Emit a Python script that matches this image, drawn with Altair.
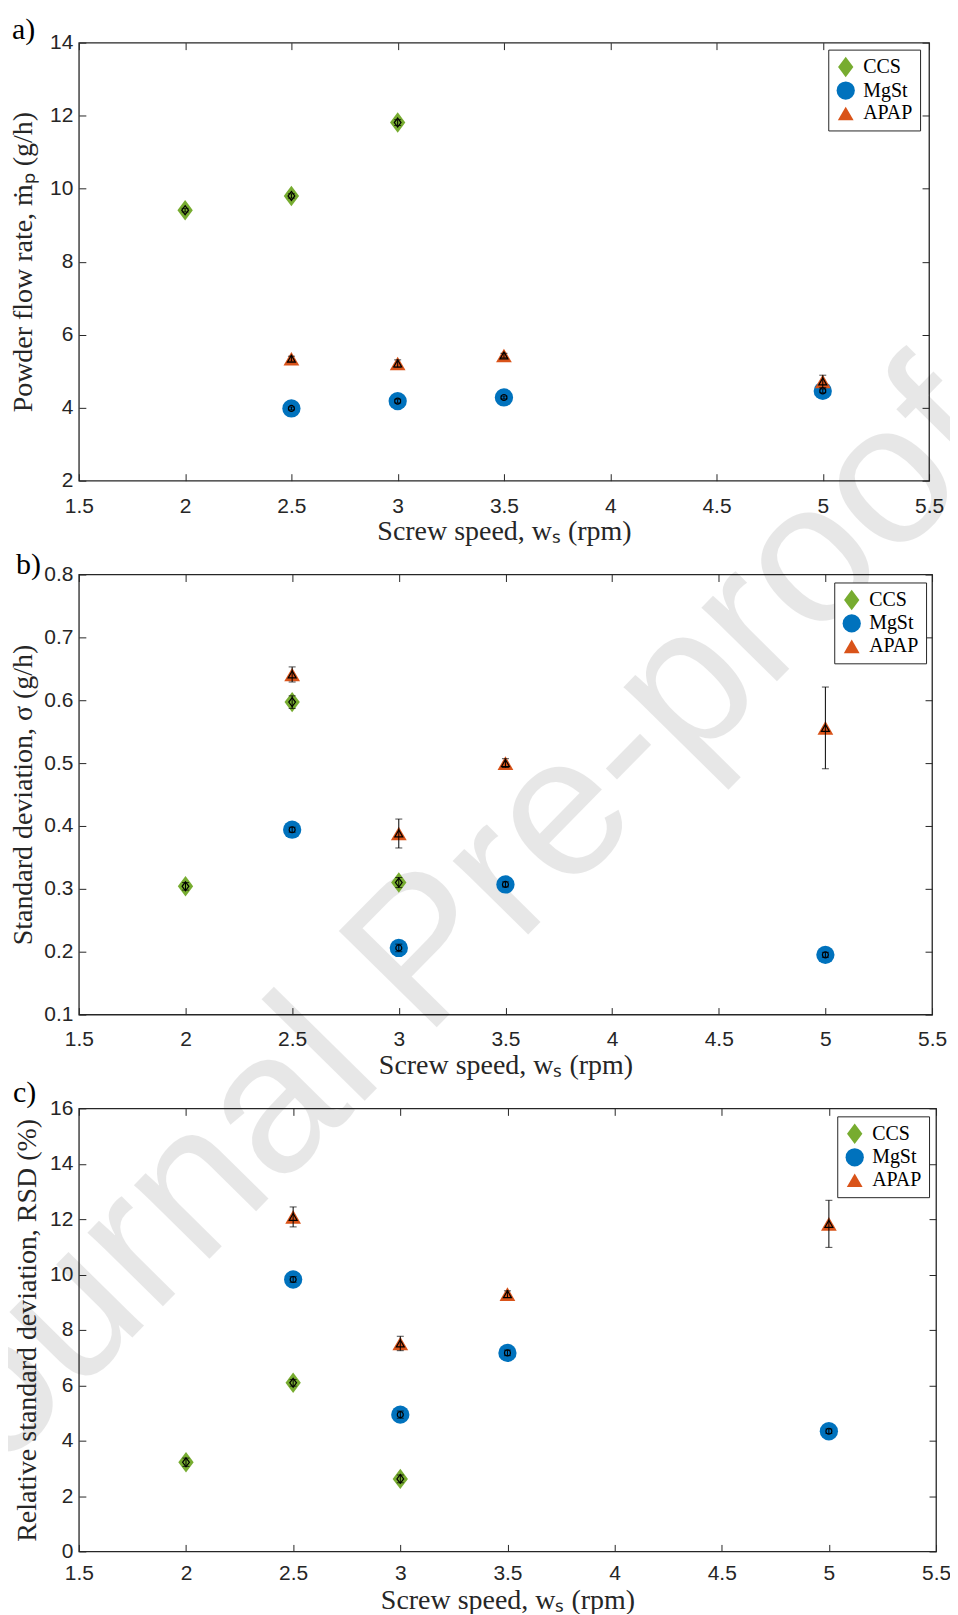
import altair as alt
import pandas as pd

# screw speeds (rpm)
speed_ccs = [2.0, 2.5, 3.0]
speed_rest = [2.5, 3.0, 3.5, 5.0]

# a) powder flow rate (g/h)
flow_ccs = [9.41, 9.80, 11.81]
flow_ccs_err = [0.05, 0.06, 0.08]
flow_mgst = [3.98, 4.18, 4.28, 4.46]
flow_mgst_err = [0.04, 0.05, 0.04, 0.05]
flow_apap = [5.34, 5.21, 5.43, 4.72]
flow_apap_err = [0.07, 0.10, 0.06, 0.17]

# b) standard deviation (g/h)
sd_ccs = [0.304, 0.597, 0.310]
sd_ccs_err = [0.006, 0.010, 0.008]
sd_mgst = [0.394, 0.206, 0.307, 0.195]
sd_mgst_err = [0.004, 0.006, 0.004, 0.004]
sd_apap = [0.641, 0.388, 0.500, 0.556]
sd_apap_err = [0.012, 0.023, 0.007, 0.065]

# c) relative standard deviation (%)
rsd_ccs = [3.22, 6.09, 2.62]
rsd_ccs_err = [0.15, 0.12, 0.14]
rsd_mgst = [9.82, 4.94, 7.17, 4.34]
rsd_mgst_err = [0.10, 0.13, 0.10, 0.08]
rsd_apap = [12.08, 7.51, 9.29, 11.83]
rsd_apap_err = [0.36, 0.26, 0.12, 0.85]

x_ticks = [1.5, 2, 2.5, 3, 3.5, 4, 4.5, 5, 5.5]

SERIES = ["CCS", "MgSt", "APAP"]
COLORS = ["#77AC30", "#0072BD", "#D95319"]
DIAMOND = "M0,-1L0.75,0L0,1L-0.75,0Z"
SHAPES = [DIAMOND, "circle", "triangle-up"]
SIZES = [420, 250, 310]
INNER = {"CCS": 81, "MgSt": 36, "APAP": 64}

SERIF = "Liberation Serif"
SANS = "Liberation Sans"
INK = "#262626"


def make_df(ccs, ccs_err, mgst, mgst_err, apap, apap_err):
    rows = []
    for name, xs, ys, es in [("CCS", speed_ccs, ccs, ccs_err),
                             ("MgSt", speed_rest, mgst, mgst_err),
                             ("APAP", speed_rest, apap, apap_err)]:
        for x, y, e in zip(xs, ys, es):
            rows.append({"series": name, "speed": x, "value": y,
                         "lo": y - e, "hi": y + e, "isz": INNER[name]})
    return pd.DataFrame(rows)


def panel(df, ytitle, ydomain, yticks, yfmt, width, height, tag, tag_x, tag_y,
          leg_x, leg_y, xlab_pad, xtitle_pad, ytitle_pad, watermark=False):
    xscale = alt.Scale(domain=[1.5, 5.5], nice=False, zero=False)
    yscale = alt.Scale(domain=ydomain, nice=False, zero=False)
    shape_scale = alt.Scale(domain=SERIES, range=SHAPES)

    leg = alt.Legend(title=None, orient="none", legendX=leg_x, legendY=leg_y,
                     labelFont=SERIF, labelFontSize=20, labelColor="black",
                     strokeColor=INK, fillColor="white", padding=7, rowPadding=3,
                     symbolStrokeWidth=0, labelOffset=7)

    base = alt.Chart(df)

    # big coloured markers, carry the labelled axes (ticks pointing inward)
    points = base.mark_point(filled=True, opacity=1, strokeWidth=0).encode(
        x=alt.X("speed:Q", scale=xscale,
                axis=alt.Axis(orient="bottom", values=x_ticks, format="~g",
                              title="Screw speed, wₛ (rpm)", offset=-7, tickSize=7,
                              labelPadding=xlab_pad, titlePadding=xtitle_pad,
                              domain=False, grid=False, labelFlush=False,
                              labelOverlap=False)),
        y=alt.Y("value:Q", scale=yscale,
                axis=alt.Axis(orient="left", values=yticks, format=yfmt,
                              title=ytitle, offset=-7, tickSize=7, labelPadding=6,
                              titlePadding=ytitle_pad, domain=False, grid=False,
                              labelFlush=False, labelOverlap=False)),
        color=alt.Color("series:N", scale=alt.Scale(domain=SERIES, range=COLORS), legend=leg),
        shape=alt.Shape("series:N", scale=shape_scale, legend=leg),
        size=alt.Size("series:N", scale=alt.Scale(domain=SERIES, range=SIZES), legend=leg),
    )

    # error bars, carry the tick-only top/right axes
    bars = base.mark_rule(color="black", strokeWidth=1).encode(
        x=alt.X("speed:Q", scale=xscale,
                axis=alt.Axis(orient="top", values=x_ticks, labels=False, title=None,
                              offset=-7, tickSize=7, domain=False, grid=False)),
        y=alt.Y("lo:Q", scale=yscale,
                axis=alt.Axis(orient="right", values=yticks, labels=False, title=None,
                              offset=-7, tickSize=7, domain=False, grid=False)),
        y2="hi:Q",
    )
    cap_lo = base.mark_tick(color="black", orient="horizontal", size=7, thickness=1).encode(
        x=alt.X("speed:Q", scale=xscale, axis=None),
        y=alt.Y("lo:Q", scale=yscale, axis=None),
    )
    cap_hi = base.mark_tick(color="black", orient="horizontal", size=7, thickness=1).encode(
        x=alt.X("speed:Q", scale=xscale, axis=None),
        y=alt.Y("hi:Q", scale=yscale, axis=None),
    )
    inner = base.mark_point(filled=False, color="black", strokeWidth=1.2, opacity=1).encode(
        x=alt.X("speed:Q", scale=xscale, axis=None),
        y=alt.Y("value:Q", scale=yscale, axis=None),
        shape=alt.Shape("series:N", scale=shape_scale, legend=None),
        size=alt.Size("isz:Q", scale=None),
    )

    label = alt.Chart(pd.DataFrame({"t": [tag]})).mark_text(
        font=SERIF, fontSize=30, align="left", baseline="alphabetic", color="black"
    ).encode(x=alt.value(tag_x), y=alt.value(tag_y), text="t:N")

    layers = [points, bars, cap_lo, cap_hi, inner, label]
    if watermark:
        wm = alt.Chart(pd.DataFrame({"t": ["Journal Pre-proof"]})).mark_text(
            font=SANS, fontSize=200, angle=314.5, align="center", baseline="alphabetic",
            color="black", opacity=0.09
        ).encode(x=alt.value(390), y=alt.value(422), text="t:N")
        layers = [wm] + layers

    return alt.layer(*layers).resolve_axis(x="independent", y="independent").properties(
        width=width, height=height)


df_a = make_df(flow_ccs, flow_ccs_err, flow_mgst, flow_mgst_err, flow_apap, flow_apap_err)
df_b = make_df(sd_ccs, sd_ccs_err, sd_mgst, sd_mgst_err, sd_apap, sd_apap_err)
df_c = make_df(rsd_ccs, rsd_ccs_err, rsd_mgst, rsd_mgst_err, rsd_apap, rsd_apap_err)

pa = panel(df_a, "Powder flow rate, ṁₚ (g/h)", [2, 14], [2, 4, 6, 8, 10, 12, 14], "d",
           852, 439, "a)", -67, -3.5, 751, 7, 14.5, 1.9, 11.9)
pb = panel(df_b, "Standard deviation, σ (g/h)", [0.1, 0.8],
           [0.1, 0.2, 0.3, 0.4, 0.5, 0.6, 0.7, 0.8], ".1f",
           855, 441, "b)", -63, -1, 757, 8, 13.5, 2.5, 6.2, watermark=True)
pc = panel(df_c, "Relative standard deviation, RSD (%)", [0, 16],
           [0, 2, 4, 6, 8, 10, 12, 14, 16], "d",
           859, 444, "c)", -66, -6, 760, 8, 11.5, 3, 8.4)

chart = alt.vconcat(pa, pb, pc, spacing=94, bounds="flush").resolve_scale(
    color="independent", shape="independent", size="independent"
).properties(
    padding={"left": -196, "right": -88, "top": 4, "bottom": -4}
).configure_view(
    stroke=INK, strokeWidth=1.3
).configure_axis(
    labelFont=SANS, labelFontSize=21, labelColor=INK, tickColor=INK, tickWidth=1,
    titleFont=SERIF, titleFontSize=28, titleColor=INK, titleFontWeight="normal"
)

chart.save("out.html", embed_options={"renderer": "svg", "actions": False})
